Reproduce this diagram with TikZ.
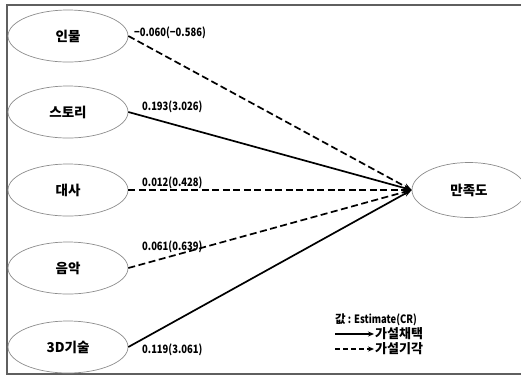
\documentclass[tikz,border=0pt]{standalone}
\usepackage{fontspec}
\usetikzlibrary{shapes.geometric,arrows.meta}
\newfontfamily\kr{Noto Sans CJK KR}
\newfontfamily\krnarrow[FakeStretch=0.82]{Noto Sans CJK KR}
\definecolor{framec}{RGB}{95,95,95}
\definecolor{ellc}{RGB}{140,140,140}
\tikzset{
  var/.style={ellipse, draw=ellc, line width=0.7pt, minimum width=120pt, minimum height=52pt, inner sep=0pt, font=\kr\bfseries\fontsize{13.5}{15}\selectfont},
  lab/.style={anchor=west, inner sep=0pt, font=\krnarrow\bfseries\fontsize{11.5}{13}\selectfont},
  acc/.style={line width=1.7pt, -{Stealth[length=8pt,width=6pt]}},
  rej/.style={line width=1.7pt, dash pattern=on 7pt off 3.5pt, -{Stealth[length=8pt,width=6pt]}},
  legtxt/.style={anchor=west, inner sep=0pt, font=\kr\bfseries\fontsize{13}{14}\selectfont}
}
\begin{document}
\begin{tikzpicture}[x=1pt,y=-1pt]
\useasboundingbox (0,0) rectangle (521,376);
\draw[framec, line width=1.5pt] (530,5) -- (7,5) -- (7,374) -- (530,374);

\node[var] (a) at (68,36) {인물};
\node[var] (b) at (68,112) {스토리};
\node[var] (c) at (68,190) {대사};
\node[var] (d) at (68,268) {음악};
\node[var] (e) at (68,347) {3D기술};
\node[var, minimum width=114pt, minimum height=55pt] (s) at (469,190) {만족도};

\draw[rej] (a.east) -- (s.west);
\draw[acc] (b.east) -- (s.west);
\draw[rej] (c.east) -- (s.west);
\draw[rej] (d.east) -- (s.west);
\draw[acc] (e.east) -- (s.west);

\node[lab] (la) at (134,33) {−0.060(−0.586)};
\node[lab] (lb) at (142,107) {0.193(3.026)};
\node[lab] (lc) at (142,183) {0.012(0.428)};
\node[lab] (ld) at (142,247) {0.061(0.639)};
\node[lab] (le) at (142,350) {0.119(3.061)};

\node[anchor=west, inner sep=0pt] (lg) at (335,320) {{\kr\bfseries\fontsize{11.5}{13}\selectfont 값}{\krnarrow\bfseries\fontsize{11.5}{13}\selectfont\ : Estimate(CR)}};
\coordinate (s1) at (335,334);
\coordinate (t1) at (374,334);
\coordinate (s2) at (335,349);
\coordinate (t2) at (374,349);
\draw[line width=1.5pt, -{Stealth[length=6pt,width=5pt]}] (s1) -- (t1);
\draw[line width=1.5pt, dash pattern=on 5pt off 3pt, -{Stealth[length=6pt,width=5pt]}] (s2) -- (t2);
\node[legtxt] (g1) at (375,334) {가설채택};
\node[legtxt] (g2) at (375,349) {가설기각};
\end{tikzpicture}
\end{document}
